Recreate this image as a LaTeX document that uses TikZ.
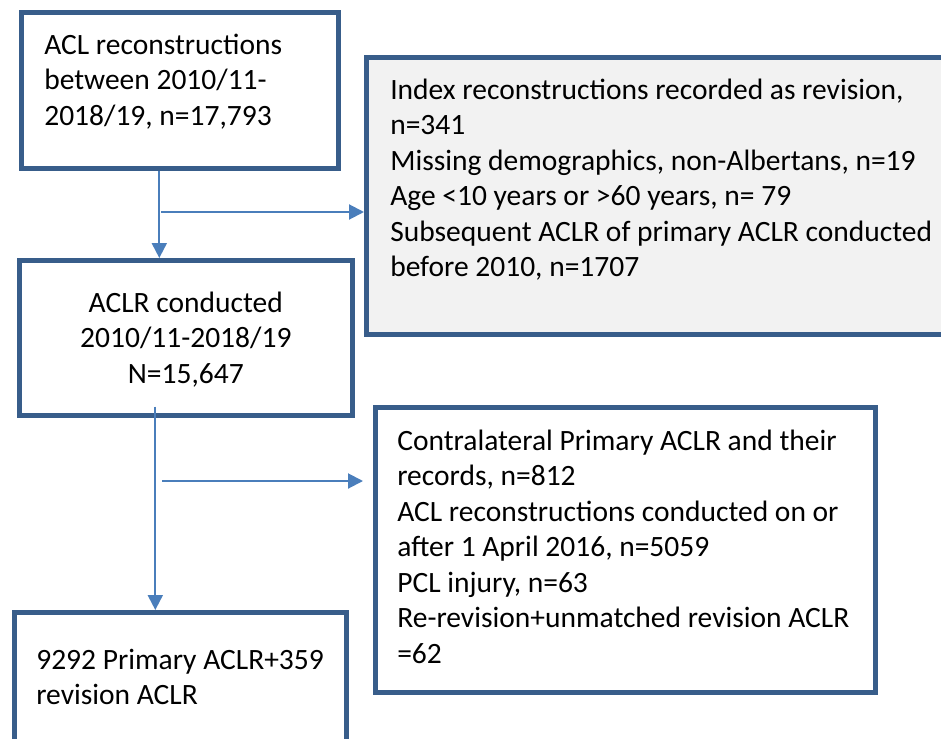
\documentclass[tikz,border=0pt]{standalone}
\usepackage{fontspec}
\setmainfont{Carlito}
\usetikzlibrary{arrows.meta}

\definecolor{boxblue}{RGB}{56,93,138}
\definecolor{arrowblue}{RGB}{74,126,187}
\definecolor{boxgray}{RGB}{242,242,242}

% height, width, left inset, first baseline, text
\newcommand{\stagetext}[5]{\parbox[c][#1][t]{#2}{\raggedright\leftskip=#3\relax\rule{0pt}{#4}#5}}

\begin{document}
\begin{tikzpicture}[x=0.5pt, y=-0.5pt,
    stage/.style={draw=boxblue, line width=2.3pt, fill=white, inner sep=0pt, anchor=north west,
                  font=\fontsize{14.75}{17.75}\selectfont},
    link/.style={draw=arrowblue, line width=1pt, -{Triangle[length=7.5pt, width=7.5pt]}}]
    \useasboundingbox (0,0) rectangle (941,738);

    % Boxes
    \node[stage] (total) at (19,10)
        {\stagetext{78pt}{158.5pt}{11.5pt}{21pt}{ACL reconstructions\\ between 2010/11-\\ 2018/19, n=17,793}};
    \node[stage, fill=boxgray] (excl1) at (364,55)
        {\stagetext{138.5pt}{298pt}{12pt}{21pt}{Index reconstructions recorded as revision,\\ n=341\\
         Missing demographics, non-Albertans, n=19\\ Age <10 years or >60 years, n= 79\\
         Subsequent ACLR of primary ACLR conducted\\ before 2010, n=1707}};
    \node[stage] (conducted) at (17,258)
        {\stagetext{77.5pt}{166.5pt}{0pt}{26pt}{\centering ACLR conducted\\ 2010/11-2018/19\\ N=15,647}};
    \node[stage] (excl2) at (373,405)
        {\stagetext{142.5pt}{250pt}{11pt}{21.5pt}{Contralateral Primary ACLR and their\\ records, n=812\\
         ACL reconstructions conducted on or\\ after 1 April 2016, n=5059\\ PCL injury, n=63\\
         Re-revision+unmatched revision ACLR\\ =62}};
    \node[stage] (final) at (12,610)
        {\stagetext{80pt}{166pt}{11pt}{28.5pt}{9292 Primary ACLR+359\\ revision ACLR}};

    % Connections
    \draw[link] ([xshift=-10.25pt]total.south) -- ([xshift=-10.25pt]total.south |- conducted.north);
    \coordinate (split1) at (161,212);
    \draw[link] (split1) -- (split1 -| excl1.west);
    \draw[link] ([xshift=-15.25pt, yshift=5.5pt]conducted.south) -- ([xshift=-15.25pt]conducted.south |- final.north);
    \coordinate (split2) at (162,481);
    \draw[link, shorten >=5pt] (split2) -- (split2 -| excl2.west);
\end{tikzpicture}
\end{document}
